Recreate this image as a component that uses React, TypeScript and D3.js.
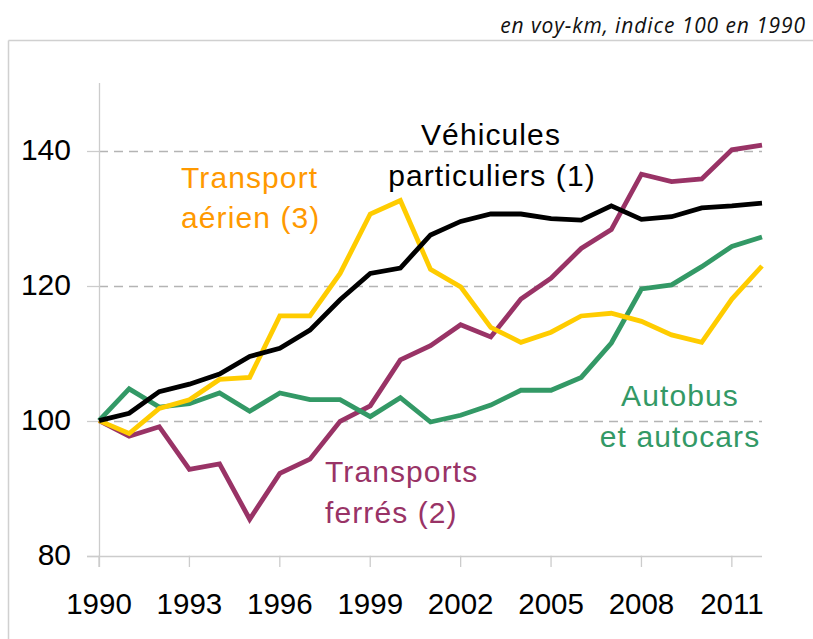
import React from "react";
import * as d3 from "d3";

const years = d3.range(1990, 2013);
const vehicules = [100, 101.1, 104.3, 105.4, 106.9, 109.5, 110.7, 113.4, 117.9, 121.8, 122.6, 127.5, 129.5, 130.6, 130.6, 129.9, 129.7, 131.8, 129.8, 130.2, 131.5, 131.8, 132.2];
const aerien = [100, 98.1, 101.8, 103.1, 106.1, 106.4, 115.5, 115.5, 121.8, 130.6, 132.6, 122.4, 119.8, 113.8, 111.6, 113.1, 115.5, 115.9, 114.7, 112.7, 111.6, 118.0, 122.9];
const autobus = [100, 104.7, 102.0, 102.5, 104.1, 101.4, 104.1, 103.1, 103.1, 100.6, 103.4, 99.8, 100.8, 102.3, 104.5, 104.5, 106.4, 111.5, 119.5, 120.1, 122.8, 125.8, 127.2];
const ferres = [100, 97.7, 99.1, 92.8, 93.6, 85.4, 92.2, 94.3, 99.9, 102.2, 109.0, 111.1, 114.2, 112.4, 118.0, 121.1, 125.5, 128.3, 136.5, 135.4, 135.8, 140.1, 140.8];
const yTicks = [80, 100, 120, 140];
const xTickYears = [1990, 1993, 1996, 1999, 2002, 2005, 2008, 2011];
const title = "en voy-km, indice 100 en 1990";

const series = [
  { name: "Transports ferrés", values: ferres, color: "#993366" },
  { name: "Autobus", values: autobus, color: "#339966" },
  { name: "Transport aérien", values: aerien, color: "#FFCC00" },
  { name: "Véhicules particuliers", values: vehicules, color: "#000000" },
];

export default function App() {
  const W = 813, H = 639;
  const x = d3.scaleLinear().domain([1990, 2012]).range([99, 762]);
  const y = d3.scaleLinear().domain([80, 150]).range([555.7, 83]);
  const line = d3.line<number>().x((_, i) => x(years[i])).y((d) => y(d));
  const font = "'Liberation Sans', Arial, sans-serif";
  const grid = "#b4b4b4";
  const axis = "#cccccc";

  return (
    <svg width={W} height={H} style={{ position: "absolute", left: 0, top: 0, background: "#fff" }}>
      <rect x={0} y={0} width={W} height={H} fill="#fff" />
      {/* frame */}
      <line x1={8.5} x2={W} y1={40.5} y2={40.5} stroke="#d0d0d0" strokeWidth={1.5} />
      <line x1={8.5} x2={8.5} y1={40.5} y2={H} stroke="#d0d0d0" strokeWidth={1.5} />
      <text x={806} y={33} textAnchor="end" fontFamily="'Open Sans', sans-serif" fontStyle="italic" fontSize={21} letterSpacing={0.9} fill="#111">
        {title}
      </text>
      {/* gridlines */}
      {yTicks.filter((t) => t !== 80).map((t) => (
        <line key={t} x1={x(1990)} x2={x(2012)} y1={Math.round(y(t)) + 0.5} y2={Math.round(y(t)) + 0.5} stroke={grid} strokeWidth={1.3} strokeDasharray="9,6" />
      ))}
      {/* y ticks */}
      {yTicks.map((t) => (
        <g key={t}>
          <line x1={87} x2={x(1990)} y1={Math.round(y(t)) + 0.5} y2={Math.round(y(t)) + 0.5} stroke={axis} strokeWidth={1.3} />
          <text x={71} y={y(t) + 9} textAnchor="end" fontFamily={font} fontSize={30} fill="#000">
            {t}
          </text>
        </g>
      ))}
      {/* axes */}
      <line x1={x(1990) + 0.5} x2={x(1990) + 0.5} y1={y(150)} y2={567} stroke={axis} strokeWidth={1.3} />
      <line x1={87} x2={x(2012)} y1={Math.round(y(80)) + 0.5} y2={Math.round(y(80)) + 0.5} stroke={axis} strokeWidth={1.3} />
      {xTickYears.map((yr) => (
        <g key={yr}>
          <line x1={x(yr)} x2={x(yr)} y1={y(80)} y2={567} stroke={axis} strokeWidth={1.3} />
          <text x={x(yr)} y={614} textAnchor="middle" fontFamily={font} fontSize={29.5} fill="#000">
            {yr}
          </text>
        </g>
      ))}
      {/* lines */}
      {series.map((s) => (
        <path key={s.name} d={line(s.values) || ""} fill="none" stroke={s.color} strokeWidth={4.8} strokeLinejoin="miter" />
      ))}
      {/* labels */}
      <g fontFamily={font} fontSize={30} letterSpacing={1.1}>
        <text x={491} y={145} textAnchor="middle" fill="#000">Véhicules</text>
        <text x={492} y={186} textAnchor="middle" fill="#000">particuliers (1)</text>
        <text x={181} y={188} fill="#FF9900">Transport</text>
        <text x={181} y={228} fill="#FF9900">aérien (3)</text>
        <text x={325} y={482} fill="#993366">Transports</text>
        <text x={325} y={523} fill="#993366">ferrés (2)</text>
        <text x={680} y={406} textAnchor="middle" fill="#339966">Autobus</text>
        <text x={680} y={447} textAnchor="middle" fill="#339966">et autocars</text>
      </g>
    </svg>
  );
}
